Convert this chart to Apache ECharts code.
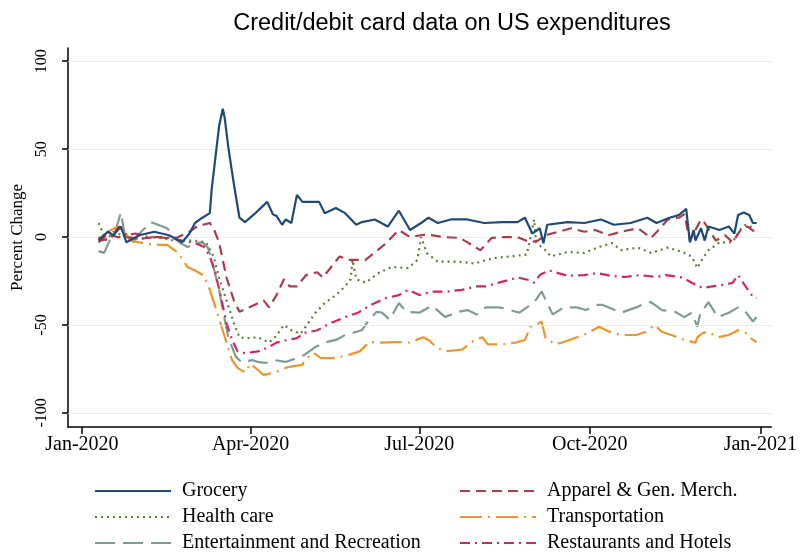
<!DOCTYPE html>
<html>
<head>
<meta charset="utf-8">
<script src="https://cdn.jsdelivr.net/npm/echarts@6.0.0/dist/echarts.min.js"></script>
<style>html,body{margin:0;padding:0;background:#fff;}#c{width:800px;height:553px;}</style>
</head>
<body>
<div id="c"></div>
<script>
// ---- data ----
const xTickDates = ['2020-01-01','2020-04-01','2020-07-01','2020-10-01','2021-01-01'];
const yTicks = [-100, -50, 0, 50, 100];
const legendCol1 = ['Grocery','Health care','Entertainment and Recreation'];
const legendCol2 = ['Apparel & Gen. Merch.','Transportation','Restaurants and Hotels'];

const groceryDates = ['2020-01-10','2020-01-15','2020-01-18','2020-01-22','2020-01-25','2020-02-01','2020-02-09','2020-02-17','2020-02-24','2020-02-28','2020-03-02','2020-03-06','2020-03-10','2020-03-11','2020-03-13','2020-03-15','2020-03-17','2020-03-18','2020-03-20','2020-03-23','2020-03-26','2020-03-29','2020-04-03','2020-04-07','2020-04-10','2020-04-13','2020-04-15','2020-04-18','2020-04-20','2020-04-23','2020-04-26','2020-04-29','2020-05-03','2020-05-08','2020-05-11','2020-05-17','2020-05-22','2020-05-28','2020-05-31','2020-06-07','2020-06-14','2020-06-20','2020-06-26','2020-07-02','2020-07-06','2020-07-11','2020-07-18','2020-07-27','2020-08-05','2020-08-15','2020-08-23','2020-08-27','2020-08-31','2020-09-04','2020-09-06','2020-09-08','2020-09-19','2020-09-28','2020-10-07','2020-10-14','2020-10-23','2020-11-01','2020-11-06','2020-11-13','2020-11-18','2020-11-22','2020-11-24','2020-11-26','2020-11-27','2020-11-30','2020-12-02','2020-12-04','2020-12-10','2020-12-15','2020-12-18','2020-12-20','2020-12-23','2020-12-26','2020-12-28','2020-12-30'];
const groceryValues = [-2,3,1,6,-3,1,3,1,-3,2,8,11,13.6,27,45,63,73,68,51,30,11,8.5,13,17,20,13,12,7,10,8,24,20,20,20,13.6,16.5,13.6,7,8.5,10,6,15,4,8,11,8,10,10,8,8.5,8.5,11,2,5,-3.5,7,8.5,8,10,7,8,11,8,11,12.5,16,-3,4,-2,5,-2,6,4,6,2,12.5,14,12.5,8,8];

const apparelDates = ['2020-01-10','2020-01-15','2020-01-20','2020-01-25','2020-02-01','2020-02-10','2020-02-20','2020-02-28','2020-03-03','2020-03-10','2020-03-12','2020-03-15','2020-03-19','2020-03-23','2020-03-26','2020-04-03','2020-04-08','2020-04-11','2020-04-15','2020-04-19','2020-04-22','2020-04-26','2020-05-01','2020-05-07','2020-05-10','2020-05-19','2020-05-24','2020-06-02','2020-06-12','2020-06-20','2020-06-26','2020-07-05','2020-07-14','2020-07-23','2020-07-27','2020-08-03','2020-08-09','2020-08-16','2020-08-23','2020-08-30','2020-09-03','2020-09-07','2020-09-14','2020-09-21','2020-09-28','2020-10-04','2020-10-11','2020-10-18','2020-10-27','2020-11-03','2020-11-08','2020-11-12','2020-11-18','2020-11-21','2020-11-24','2020-11-27','2020-11-30','2020-12-02','2020-12-08','2020-12-13','2020-12-17','2020-12-22','2020-12-25','2020-12-29'];
const apparelValues = [-3,2,0,0,-1,0,-1,3,6,8,5,-3,-23,-36,-42.5,-38.6,-36,-40,-33,-24,-28,-28,-21.6,-20,-23,-11,-13,-13,-4.5,4,0,1.5,0,-0.5,-3,-7.5,-0.5,0,0,-3,-2,1,3,5,3,4,1,3,5,-0.5,5,10,11,13,-2,4,10,8,-2,1,-3,5,6,3];

const healthDates = ['2020-01-10','2020-01-14','2020-01-18','2020-01-25','2020-02-01','2020-02-10','2020-02-20','2020-03-01','2020-03-08','2020-03-12','2020-03-15','2020-03-19','2020-03-23','2020-03-26','2020-03-30','2020-04-05','2020-04-11','2020-04-15','2020-04-19','2020-04-23','2020-04-28','2020-05-02','2020-05-06','2020-05-11','2020-05-17','2020-05-22','2020-05-25','2020-05-26','2020-05-28','2020-06-02','2020-06-09','2020-06-16','2020-06-25','2020-06-30','2020-07-02','2020-07-05','2020-07-11','2020-07-22','2020-07-31','2020-08-10','2020-08-19','2020-08-28','2020-09-01','2020-09-02','2020-09-07','2020-09-10','2020-09-19','2020-09-28','2020-10-05','2020-10-13','2020-10-18','2020-10-27','2020-11-03','2020-11-12','2020-11-20','2020-11-25','2020-11-28','2020-12-01','2020-12-04','2020-12-10','2020-12-17','2020-12-21','2020-12-24','2020-12-29'];
const healthValues = [8,-2,3,0,-1,0,-2,-2,-3,-11,-23,-36,-49,-57,-57.5,-57,-60,-56,-50,-53,-55,-49,-43,-37.5,-33,-28,-24,-13,-24,-26,-20.5,-17,-17.6,-13,0,-9,-14,-14,-15,-12,-11,-10,10,-3,-7.5,-11,-8.5,-9,-6,-3.4,-7.5,-6,-9,-6,-8.5,-11,-17.6,-12,-7.5,-3,-3,4,7,5];

const transportDates = ['2020-01-10','2020-01-15','2020-01-22','2020-01-27','2020-02-01','2020-02-09','2020-02-16','2020-02-22','2020-02-27','2020-03-02','2020-03-07','2020-03-10','2020-03-14','2020-03-19','2020-03-22','2020-03-25','2020-03-29','2020-04-01','2020-04-05','2020-04-08','2020-04-14','2020-04-21','2020-04-29','2020-04-30','2020-05-05','2020-05-09','2020-05-16','2020-05-24','2020-05-30','2020-06-04','2020-06-10','2020-06-19','2020-06-26','2020-07-03','2020-07-06','2020-07-10','2020-07-15','2020-07-24','2020-07-31','2020-08-04','2020-08-07','2020-08-15','2020-08-22','2020-08-27','2020-08-30','2020-09-02','2020-09-05','2020-09-07','2020-09-12','2020-09-17','2020-09-24','2020-09-29','2020-10-06','2020-10-13','2020-10-18','2020-10-26','2020-10-31','2020-11-05','2020-11-09','2020-11-14','2020-11-21','2020-11-27','2020-11-28','2020-12-01','2020-12-04','2020-12-09','2020-12-15','2020-12-20','2020-12-24','2020-12-26','2020-12-30'];
const transportValues = [-1,3,7,-2,-3,-4.5,-4.5,-9,-17,-19,-22,-30,-43,-60,-70,-74.4,-77,-72,-75.6,-78.4,-77,-74,-72.7,-70,-66,-68.8,-68.8,-67,-65,-59.7,-60,-59.7,-60,-57,-58.5,-62.5,-65,-64,-58.5,-57,-61,-61,-60,-58.5,-51,-50,-48,-57,-61,-59.7,-57,-55,-51,-54.5,-55.7,-55.7,-54,-50,-54,-55.7,-58.5,-60,-57,-54.5,-54,-57,-55.7,-53,-54.5,-57,-59.7];

const entertainDates = ['2020-01-10','2020-01-13','2020-01-16','2020-01-19','2020-01-22','2020-01-24','2020-01-28','2020-02-02','2020-02-07','2020-02-11','2020-02-16','2020-02-20','2020-02-23','2020-02-27','2020-03-03','2020-03-06','2020-03-09','2020-03-12','2020-03-15','2020-03-17','2020-03-20','2020-03-24','2020-03-27','2020-04-02','2020-04-05','2020-04-09','2020-04-14','2020-04-20','2020-04-26','2020-04-30','2020-05-06','2020-05-11','2020-05-17','2020-05-22','2020-05-26','2020-05-31','2020-06-04','2020-06-08','2020-06-11','2020-06-15','2020-06-20','2020-06-24','2020-07-01','2020-07-08','2020-07-15','2020-07-22','2020-07-27','2020-08-01','2020-08-06','2020-08-13','2020-08-19','2020-08-24','2020-09-01','2020-09-05','2020-09-08','2020-09-11','2020-09-17','2020-09-24','2020-09-29','2020-10-05','2020-10-08','2020-10-18','2020-10-26','2020-10-31','2020-11-03','2020-11-09','2020-11-16','2020-11-21','2020-11-25','2020-11-28','2020-11-30','2020-12-02','2020-12-04','2020-12-09','2020-12-15','2020-12-20','2020-12-24','2020-12-28','2020-12-30'];
const entertainValues = [-8,-9,-2,3,14,2,-3.4,3,8.5,7,5,0,-3.4,-5.7,-3.4,-3,-6,-17,-30,-41.5,-57,-68,-71,-70,-71,-71.6,-70,-71,-68.8,-67,-62.5,-60,-58.5,-55.7,-54.5,-53,-47,-42.5,-43,-47,-37.5,-42.5,-43,-39,-45.5,-42.5,-41.5,-44,-40,-40,-41.5,-43,-37,-31,-37.5,-44,-40,-40,-41.5,-38.6,-38.6,-43,-40,-37.5,-37,-41.5,-42.5,-45.5,-43,-51,-41.5,-40,-37,-45.5,-43,-40,-42.5,-48,-45.5];

const restaurantDates = ['2020-01-10','2020-01-12','2020-01-17','2020-01-21','2020-01-25','2020-01-30','2020-02-06','2020-02-15','2020-02-24','2020-03-02','2020-03-07','2020-03-10','2020-03-13','2020-03-16','2020-03-19','2020-03-22','2020-03-25','2020-03-29','2020-04-05','2020-04-10','2020-04-15','2020-04-21','2020-04-26','2020-04-30','2020-05-07','2020-05-14','2020-05-22','2020-05-29','2020-06-05','2020-06-13','2020-06-20','2020-06-25','2020-07-01','2020-07-08','2020-07-16','2020-07-24','2020-08-01','2020-08-06','2020-08-14','2020-08-23','2020-08-29','2020-09-01','2020-09-04','2020-09-09','2020-09-19','2020-09-28','2020-10-05','2020-10-12','2020-10-20','2020-10-28','2020-11-06','2020-11-11','2020-11-20','2020-11-25','2020-12-01','2020-12-06','2020-12-13','2020-12-17','2020-12-20','2020-12-24','2020-12-28','2020-12-30'];
const restaurantValues = [0,-2,0,6,1,2,0,0,-2,-3.4,-5.7,-11,-20.5,-34,-49,-58.5,-65,-66,-65,-63,-60,-58.5,-57.5,-54.5,-53,-49,-45.5,-43,-38.6,-34.7,-33,-30,-33,-31,-31,-30,-28,-28,-25.6,-23,-24.4,-26,-21.6,-19,-22,-21.6,-20.5,-22,-22.7,-21.6,-22.7,-21.6,-23,-26,-29,-28,-27,-26,-21.6,-28,-34,-34.7];

// ---- helpers ----
const MONTHS = ['Jan','Feb','Mar','Apr','May','Jun','Jul','Aug','Sep','Oct','Nov','Dec'];
function ts(s) { const p = s.split('-').map(Number); return Date.UTC(p[0], p[1] - 1, p[2]); }
function zip(dates, values) { return dates.map((d, i) => [ts(d), values[i]]); }
const xTicks = xTickDates.map(ts);
const DAY = 86400000;

const styles = {
  'Grocery': {color: '#1f4a78', type: 'solid', width: 2.2},
  'Apparel & Gen. Merch.': {color: '#a83d4f', type: [10, 6], width: 2.2},
  'Health care': {color: '#5f7f35', type: [2, 4], width: 2.2},
  'Transportation': {color: '#eb952b', type: [22, 6, 2, 6], width: 2.2},
  'Entertainment and Recreation': {color: '#7f9c92', type: [20, 8], width: 2.2},
  'Restaurants and Hotels': {color: '#d0285c', type: [10, 5, 2, 5], width: 2.2}
};
const dataByName = {
  'Grocery': zip(groceryDates, groceryValues),
  'Apparel & Gen. Merch.': zip(apparelDates, apparelValues),
  'Health care': zip(healthDates, healthValues),
  'Transportation': zip(transportDates, transportValues),
  'Entertainment and Recreation': zip(entertainDates, entertainValues),
  'Restaurants and Hotels': zip(restaurantDates, restaurantValues)
};

const serif = 'Liberation Serif';
const chart = echarts.init(document.getElementById('c'), null, {renderer: 'canvas'});

const series = [{
  type: 'line', name: '_grid', data: [], z: 1, silent: true,
  markLine: {
    silent: true, symbol: 'none', label: {show: false},
    lineStyle: {color: '#ebebeb', type: 'solid', width: 1},
    data: yTicks.map(v => ({yAxis: v}))
  }
}];
const drawOrder = ['Entertainment and Recreation','Transportation','Restaurants and Hotels','Health care','Apparel & Gen. Merch.','Grocery'];
drawOrder.forEach((name, i) => {
  const st = styles[name];
  series.push({
    type: 'line', name: name, data: dataByName[name],
    symbol: 'none', smooth: false, z: 3 + i,
    itemStyle: {color: st.color},
    lineStyle: {color: st.color, type: st.type, width: st.width}
  });
});

const legendText = {fontFamily: serif, fontSize: 20, color: '#000', padding: [0, 0, 0, 6]};
const rowCenters = [489, 515, 541];
const legends = [];
[[legendCol1, 89], [legendCol2, 454]].forEach(([names, left]) => {
  names.forEach((name, r) => {
    legends.push({
      left: left, top: rowCenters[r] - 13, itemWidth: 76, itemHeight: 20,
      itemStyle: {opacity: 0}, selectedMode: false,
      data: [name], textStyle: legendText
    });
  });
});

chart.setOption({
  animation: false,
  backgroundColor: '#fff',
  title: {
    text: 'Credit/debit card data on US expenditures',
    left: 447, top: 7, textAlign: 'center',
    textStyle: {fontFamily: 'Liberation Sans', fontSize: 23.5, fontWeight: 'normal', color: '#000'}
  },
  grid: {left: 68, right: 25, top: 48, bottom: 126, containLabel: false},
  xAxis: {
    type: 'value',
    min: ts('2020-01-01') - 7.5 * DAY,
    max: ts('2021-01-01') + 5.9 * DAY,
    axisLine: {show: true, onZero: false, lineStyle: {color: '#000', width: 1.5}},
    axisTick: {show: true, length: 7, lineStyle: {color: '#000', width: 1.5}, customValues: xTicks},
    axisLabel: {
      customValues: xTicks, margin: 8,
      fontFamily: serif, fontSize: 20, color: '#000',
      formatter: v => { const d = new Date(v); return MONTHS[d.getUTCMonth()] + '-' + d.getUTCFullYear(); }
    },
    splitLine: {show: false}
  },
  yAxis: {
    type: 'value', min: -108, max: 107.5,
    name: 'Percent Change', nameLocation: 'middle', nameGap: 37, nameRotate: 90,
    nameTextStyle: {fontFamily: serif, fontSize: 17, color: '#000'},
    axisLine: {show: true, onZero: false, lineStyle: {color: '#000', width: 1.5}},
    axisTick: {show: true, length: 6, lineStyle: {color: '#000', width: 1.5}, customValues: yTicks},
    axisLabel: {customValues: yTicks, rotate: 90, margin: 18, fontFamily: serif, fontSize: 16, color: '#000'},
    splitLine: {show: false}
  },
  legend: legends,
  series: series
});
</script>
</body>
</html>
